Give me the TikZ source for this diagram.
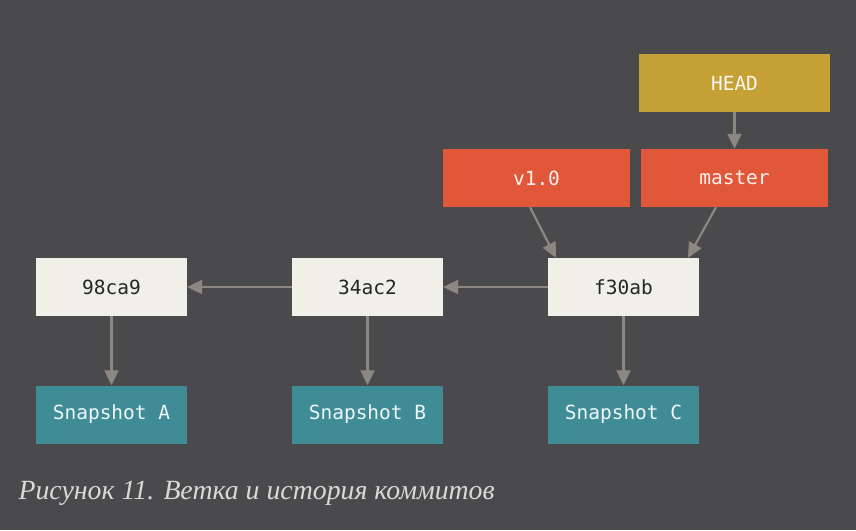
\documentclass[tikz,border=0pt]{standalone}
\usepackage{fontspec}
\setmonofont{DejaVu Sans Mono}
\newfontfamily\capfont{Liberation Serif}
\usetikzlibrary{arrows.meta}

\definecolor{bggray}{HTML}{4A4A4D}
\definecolor{commitfill}{HTML}{F0EFE8}
\definecolor{reffill}{HTML}{E0573A}
\definecolor{headfill}{HTML}{C4A035}
\definecolor{snapfill}{HTML}{3F8C96}
\definecolor{arrowgray}{HTML}{8C8780}

\tikzset{
  box/.style={minimum width=151pt, minimum height=58pt, inner sep=0pt,
    font=\fontsize{19.5}{22}\selectfont\ttfamily},
  commit/.style={box, fill=commitfill, text=black!85},
  snap/.style={box, fill=snapfill, text=white!92!snapfill},
  ref/.style={box, minimum width=187pt, fill=reffill, text=white!92!reffill},
  head/.style={box, minimum width=191pt, fill=headfill, text=white!92!headfill},
  arr/.style={draw=arrowgray, line width=2.2pt,
    -{Triangle[length=15pt,width=14pt,fill=arrowgray]}}
}

\begin{document}
\begin{tikzpicture}[x=1pt,y=-1pt]
  \fill[bggray] (0,0) rectangle (856,530);
  \useasboundingbox (0,0) rectangle (856,530);

  % commits
  \node[commit] (c1) at (111.5,287) {98ca9};
  \node[commit] (c2) at (367.5,287) {34ac2};
  \node[commit] (c3) at (623.5,287) {f30ab};

  % snapshots
  \node[snap] (s1) at (111.5,414.5) {Snapshot A};
  \node[snap] (s2) at (367.5,414.5) {Snapshot B};
  \node[snap] (s3) at (623.5,414.5) {Snapshot C};

  % refs
  \node[ref] (tag) at (536.5,178) {v1.0};
  \node[ref] (master) at (734.5,178) {master};
  \node[head] (head) at (734.5,83) {HEAD};

  \draw[arr] (c3) -- (c2);
  \draw[arr] (c2) -- (c1);
  \foreach \c/\s in {c1/s1,c2/s2,c3/s3}
    \draw[arr] (\c) -- (\s);
  \draw[arr] ([xshift=-6.5pt]tag.south) -- ([xshift=-67.5pt]c3.north);
  \draw[arr] ([xshift=-18.5pt]master.south) -- ([xshift=64.5pt]c3.north);
  \draw[arr] (head) -- (master);

  \node[anchor=west, text=white!85!black] (caption) at (15,493)
    {\capfont\itshape\fontsize{27.8}{30}\selectfont Рисунок 11. Ветка и история коммитов};
\end{tikzpicture}
\end{document}
